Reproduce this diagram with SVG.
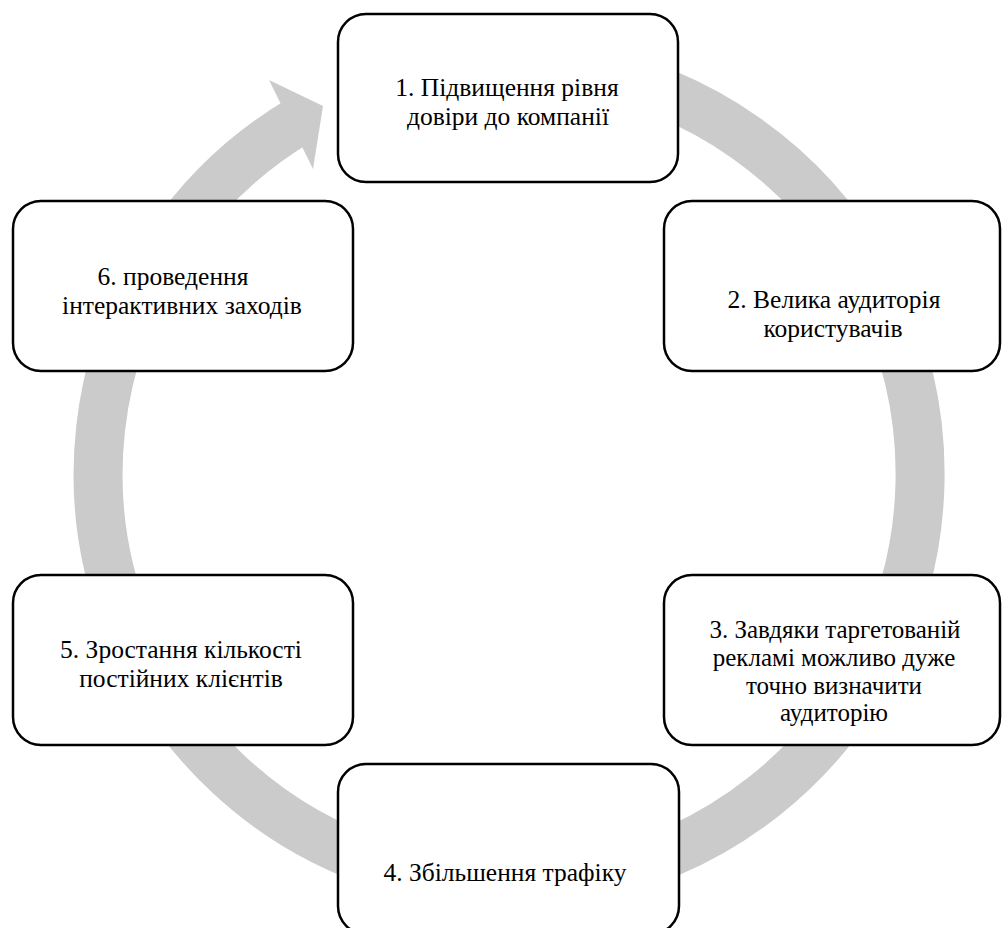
<svg xmlns="http://www.w3.org/2000/svg" width="1002" height="928" viewBox="0 0 1002 928">
<style>
.box{fill:#ffffff;stroke:#000000;stroke-width:2.5}
.lbl{font-family:"Liberation Serif","Times New Roman","DejaVu Serif",serif;font-size:25.5px;fill:#000000;text-anchor:middle}
.ring{fill:none;stroke:#cbcbcb;stroke-width:49}
.head{fill:#cbcbcb}
</style>
<rect width="1002" height="928" fill="#ffffff"/>
<g id="connectors">
<path class="ring" d="M580.4,69.2 A411,411 0 1 1 300.4,119.9"/>
<polygon class="head" points="269,80 323,106 313,169"/>
</g>
<g id="node1">
<rect class="box" x="338" y="14" width="340" height="168" rx="28" ry="28"/>
<text class="lbl" x="507" y="96">1. Підвищення рівня</text>
<text class="lbl" x="508" y="124.5">довіри до компанії</text>
</g>
<g id="node2">
<rect class="box" x="664" y="201" width="336" height="170" rx="28" ry="28"/>
<text class="lbl" x="834" y="308">2. Велика аудиторія</text>
<text class="lbl" x="833" y="336.5">користувачів</text>
</g>
<g id="node3">
<rect class="box" x="664" y="575" width="336" height="170" rx="28" ry="28"/>
<text class="lbl" style="font-size:25px" x="835" y="638">3. Завдяки таргетованій</text>
<text class="lbl" style="font-size:25px" x="834" y="665.8">рекламі можливо дуже</text>
<text class="lbl" style="font-size:25px" x="834" y="693.6">точно визначити</text>
<text class="lbl" style="font-size:25px" x="834" y="721.4">аудиторію</text>
</g>
<g id="node4">
<rect class="box" x="338" y="764" width="341" height="170" rx="28" ry="28"/>
<text class="lbl" x="505" y="881">4. Збільшення трафіку</text>
</g>
<g id="node5">
<rect class="box" x="13" y="575" width="340" height="170" rx="28" ry="28"/>
<text class="lbl" x="181" y="658">5. Зростання кількості</text>
<text class="lbl" x="181" y="686.5">постійних клієнтів</text>
</g>
<g id="node6">
<rect class="box" x="13" y="201" width="340" height="170" rx="28" ry="28"/>
<text class="lbl" x="173" y="285">6. проведення</text>
<text class="lbl" x="182" y="313.5">інтерактивних заходів</text>
</g>
</svg>
